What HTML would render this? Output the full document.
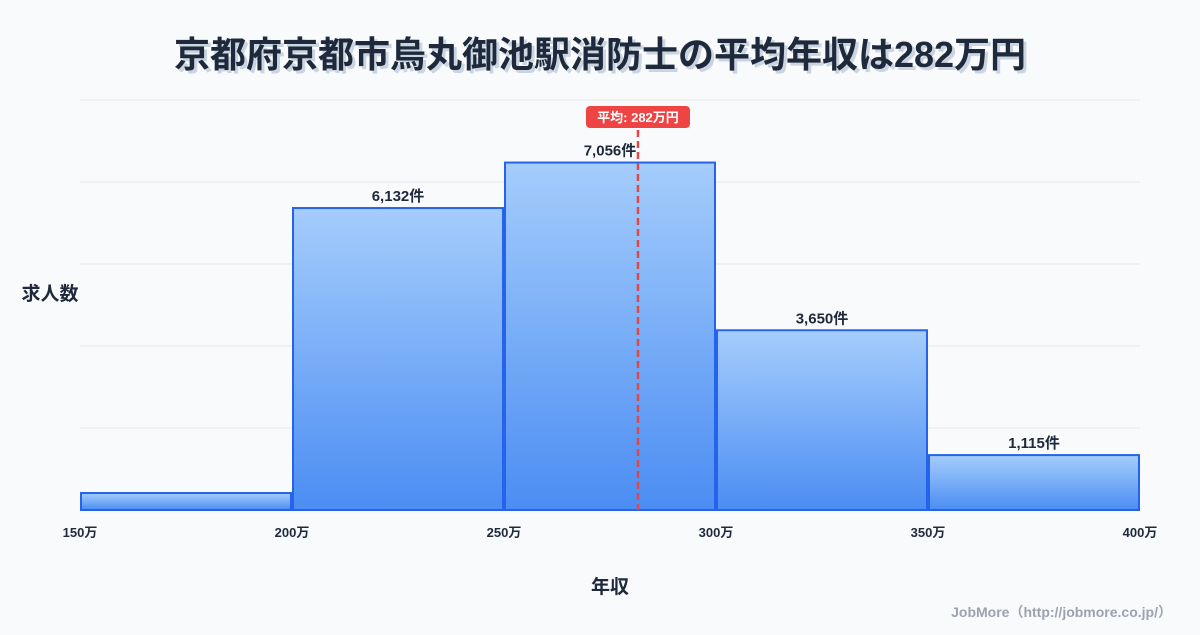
<!DOCTYPE html>
<html><head><meta charset="utf-8"><style>
body{margin:0;background:#f8fafc;}
svg text{font-family:"Liberation Sans","Noto Sans CJK JP",sans-serif;}
</style></head><body>
<svg width="1200" height="630" viewBox="0 0 1200 630" xmlns="http://www.w3.org/2000/svg">
<defs><linearGradient id="g" x1="0" y1="0" x2="0" y2="1"><stop offset="0" stop-color="#a5cdfc"/><stop offset="1" stop-color="#4b8df3"/></linearGradient></defs>
<rect width="1200" height="630" fill="#f8fafc"/>
<text x="603" y="70" text-anchor="middle" font-size="36" font-weight="bold" fill="#cbd5e1">京都府京都市烏丸御池駅消防士の平均年収は282万円</text>
<text x="600" y="67" text-anchor="middle" font-size="36" font-weight="bold" fill="#1e293b">京都府京都市烏丸御池駅消防士の平均年収は282万円</text>
<g id="grid"></g><g id="bars"></g><g id="xt"></g><g id="mean"></g>
<text x="50" y="300" text-anchor="middle" font-size="19" font-weight="bold" fill="#1e293b">求人数</text>
<text x="610" y="593" text-anchor="middle" font-size="19" font-weight="bold" fill="#1e293b">年収</text>
<text x="1172" y="617" text-anchor="end" font-size="14" font-weight="bold" fill="#9ca3af">JobMore（http://jobmore.co.jp/）</text>
</svg>
<script>
const binStarts=[150,200,250,300,350];
const counts=[345,6132,7056,3650,1115];
const labels=["","6,132件","7,056件","3,650件","1,115件"];
const xTicks=[150,200,250,300,350,400];
const meanValue=281.6;
const meanText="282";
const NS="http://www.w3.org/2000/svg";
const x0=80,x1=1140,yb=510,yt=100;
const xmin=150,xmax=400,ymax=Math.max(...counts)*1.18;
const X=v=>x0+(v-xmin)/(xmax-xmin)*(x1-x0);
const Y=v=>yb-v/ymax*(yb-yt);
function mk(tag,attrs,parent){const e=document.createElementNS(NS,tag);for(const k in attrs)e.setAttribute(k,attrs[k]);document.getElementById(parent).appendChild(e);return e;}
for(let i=0;i<=5;i++){const y=yt+i*(yb-yt)/5;const l=mk('line',{x1:x0,x2:x1,y1:y,y2:y,stroke:'#e5e7eb','stroke-width':1},'grid');

}
counts.forEach((c,i)=>{const a=X(binStarts[i])+1,b=X(binStarts[i]+50)-1;
const r=mk('rect',{x:a,y:Y(c),width:b-a,height:yb-Y(c),fill:'url(#g)',stroke:'#2563eb','stroke-width':2},'bars');


if(labels[i]){const t=mk('text',{x:(a+b)/2,y:Y(c)-7,'text-anchor':'middle','font-size':15,'font-weight':'bold',fill:'#1e293b'},'bars');t.textContent=labels[i];

}});
xTicks.forEach(v=>{const t=mk('text',{x:X(v),y:537,'text-anchor':'middle','font-size':13,'font-weight':'bold',fill:'#1e293b'},'xt');t.textContent=v+'万';

});
const mx=X(meanValue);
const ml=mk('line',{x1:mx,x2:mx,y1:130,y2:yb,stroke:'#e04848','stroke-width':2.5,'stroke-dasharray':'7,4'},'mean');


const mb=mk('rect',{x:mx-52,y:106,width:104,height:22,rx:4,fill:'#ef4444'},'mean');


const mt=mk('text',{x:mx,y:122,'text-anchor':'middle','font-size':13,'font-weight':'bold',fill:'#fff'},'mean');mt.textContent='平均: '+meanText+'万円';


</script>
</body></html>
